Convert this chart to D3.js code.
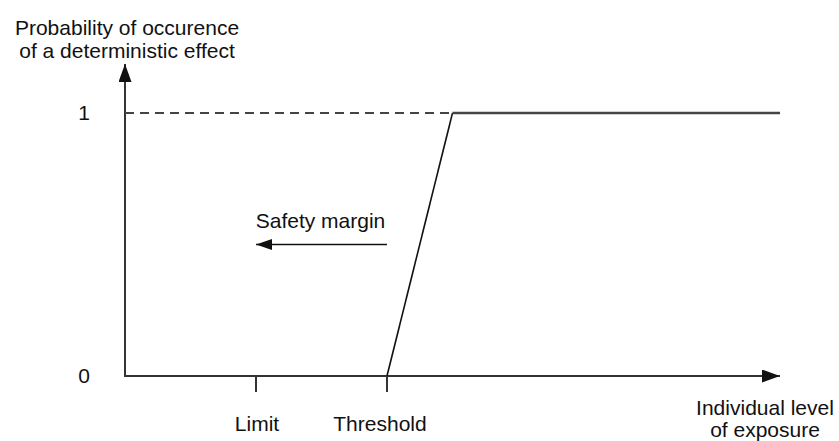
<!DOCTYPE html>
<html>
<head>
<meta charset="utf-8">
<script src="https://cdn.jsdelivr.net/npm/d3@7"></script>
<style>
  html, body { margin: 0; padding: 0; background: #fff; }
  svg { display: block; }
  text { font-family: "Liberation Sans", Arial, Helvetica, sans-serif; fill: #111; }
</style>
</head>
<body>
<svg id="chart" width="839" height="441"></svg>
<script>
// ---- data ----
const yTitle = ["Probability of occurence", "of a deterministic effect"];
const xTitle = ["Individual level", "of exposure"];
const yTickValues = [0, 1];
const yTickLabels = ["0", "1"];
const xMarkNames = ["Limit", "Threshold"];
const xMarkValues = [20, 40];
// dose-response curve: exposure vs probability
const curveX = [40, 50, 100];
const curveY = [0, 1, 1];
const marginLabel = "Safety margin";
const marginFrom = 40, marginTo = 20, marginLevel = 0.5;

// ---- scales ----
const svg = d3.select("#chart");
const x = d3.scaleLinear().domain([0, 100]).range([125, 780]);
const y = d3.scaleLinear().domain([0, 1]).range([376, 113]);

const defs = svg.append("defs");
defs.append("marker").attr("id", "arrowAxis")
  .attr("viewBox", "0 0 18 13").attr("refX", 18).attr("refY", 6.5)
  .attr("markerWidth", 18).attr("markerHeight", 13)
  .attr("markerUnits", "userSpaceOnUse").attr("orient", "auto")
  .append("path").attr("d", "M0,0 L18,6.5 L0,13 Z").attr("fill", "#111");
defs.append("marker").attr("id", "arrowSmall")
  .attr("viewBox", "0 0 16 11").attr("refX", 16).attr("refY", 5.5)
  .attr("markerWidth", 16).attr("markerHeight", 11)
  .attr("markerUnits", "userSpaceOnUse").attr("orient", "auto")
  .append("path").attr("d", "M0,0 L16,5.5 L0,11 Z").attr("fill", "#111");

// ---- axes lines ----
svg.append("line")
  .attr("x1", x(0)).attr("y1", y(0)).attr("x2", x(0)).attr("y2", 64)
  .attr("stroke", "#333").attr("stroke-width", 2)
  .attr("marker-end", "url(#arrowAxis)");
svg.append("line")
  .attr("x1", x(0) - 1).attr("y1", y(0)).attr("x2", x(100)).attr("y2", y(0))
  .attr("stroke", "#333").attr("stroke-width", 2)
  .attr("marker-end", "url(#arrowAxis)");

// y tick labels
svg.selectAll(".ylab").data(yTickValues).enter().append("text")
  .attr("class", "ylab")
  .attr("x", 90).attr("y", d => y(d) + 7)
  .attr("text-anchor", "end").attr("font-size", 21)
  .text((d, i) => yTickLabels[i]);

// x marks (ticks + labels)
svg.selectAll(".xtick").data(xMarkValues).enter().append("line")
  .attr("x1", d => x(d)).attr("x2", d => x(d))
  .attr("y1", y(0)).attr("y2", y(0) + 16)
  .attr("stroke", "#333").attr("stroke-width", 2);
svg.selectAll(".xlab").data(xMarkValues).enter().append("text")
  .attr("x", (d, i) => x(d) + (i === 0 ? 1 : -7)).attr("y", 431)
  .attr("text-anchor", "middle").attr("font-size", 21)
  .text((d, i) => xMarkNames[i]);

// dashed reference at probability 1
svg.append("line")
  .attr("x1", x(0)).attr("x2", x(curveX[1])).attr("y1", y(1)).attr("y2", y(1))
  .attr("stroke", "#444").attr("stroke-width", 2).attr("stroke-dasharray", "9,6");

// curve
const pts = curveX.map((v, i) => [v, curveY[i]]);
svg.append("path")
  .attr("d", d3.line().x(d => x(d[0])).y(d => y(d[1]))(pts.slice(0, 2)))
  .attr("fill", "none").attr("stroke", "#111").attr("stroke-width", 1.6);
svg.append("path")
  .attr("d", d3.line().x(d => x(d[0])).y(d => y(d[1]))(pts.slice(1)))
  .attr("fill", "none").attr("stroke", "#444").attr("stroke-width", 2.5);

// safety margin arrow
svg.append("line")
  .attr("x1", x(marginFrom)).attr("x2", x(marginTo))
  .attr("y1", y(marginLevel)).attr("y2", y(marginLevel))
  .attr("stroke", "#111").attr("stroke-width", 1.6)
  .attr("marker-end", "url(#arrowSmall)");
svg.append("text")
  .attr("x", x((marginFrom + marginTo) / 2) - 1).attr("y", y(marginLevel) - 17)
  .attr("text-anchor", "middle").attr("font-size", 21)
  .text(marginLabel);

// axis titles
svg.selectAll(".ytitle").data(yTitle).enter().append("text")
  .attr("x", 127).attr("y", (d, i) => 35 + i * 23)
  .attr("text-anchor", "middle").attr("font-size", 21)
  .text(d => d);
svg.selectAll(".xtitle").data(xTitle).enter().append("text")
  .attr("x", 765).attr("y", (d, i) => 415 + i * 22)
  .attr("text-anchor", "middle").attr("font-size", 21)
  .text(d => d);
</script>
</body>
</html>
